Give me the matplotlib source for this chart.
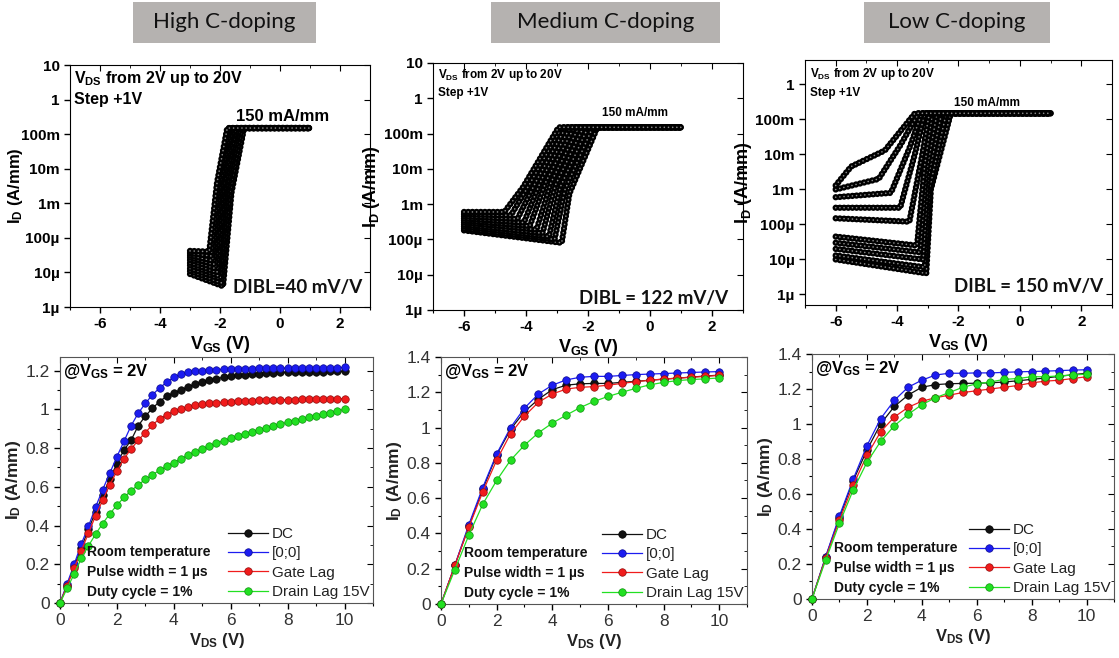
import numpy as np
import matplotlib.pyplot as plt
from matplotlib.patches import Rectangle
from matplotlib.ticker import (MultipleLocator, FixedLocator, FixedFormatter, NullFormatter,
                               FuncFormatter, NullLocator)

plt.rcParams['font.family'] = ['Liberation Sans', 'DejaVu Sans']
plt.rcParams['mathtext.fontset'] = 'custom'
plt.rcParams['mathtext.rm'] = 'Liberation Sans:bold'
plt.rcParams['mathtext.it'] = 'Liberation Sans:bold'
plt.rcParams['mathtext.bf'] = 'Liberation Sans:bold'
plt.rcParams['mathtext.default'] = 'regular'
plt.rcParams['lines.scale_dashes'] = False
plt.rcParams['axes.unicode_minus'] = False

# ---------------- transfer curves (top row), one entry per VDS = 2,4,...,20 V
vds_steps = [2, 4, 6, 8, 10, 12, 14, 16, 18, 20]
i_sat = 0.15      # 150 mA/mm compliance
vgs_stop = 1.0

# High C-doping
hi_vgs_start = -3.0
hi_i_start = [9e-6, 1.1e-5, 1.3e-5, 1.6e-5, 1.9e-5, 2.3e-5, 2.7e-5, 3.1e-5, 3.6e-5, 4.2e-5]
hi_v_on = [-1.90, -1.96, -2.00, -2.06, -2.10, -2.16, -2.21, -2.26, -2.30, -2.36]
hi_i_on = [4e-6, 5e-6, 6.5e-6, 8e-6, 1.0e-5, 1.3e-5, 1.7e-5, 2.2e-5, 3.0e-5, 4.0e-5]
hi_v_mid = [-1.62, -1.68, -1.74, -1.80, -1.85, -1.90, -1.95, -2.00, -2.05, -2.10]
hi_i_mid = [2e-3, 2e-3, 2.5e-3, 2.5e-3, 3e-3, 3e-3, 3.5e-3, 3.5e-3, 4e-3, 4e-3]
hi_v_sat = [-1.20, -1.28, -1.35, -1.42, -1.48, -1.55, -1.60, -1.66, -1.71, -1.76]

# Medium C-doping
md_vgs_start = -6.0
md_i_start = [1.8e-4, 2.0e-4, 2.3e-4, 2.6e-4, 3.0e-4, 3.4e-4, 3.9e-4, 4.5e-4, 5.2e-4, 6.0e-4]
md_v_on = [-2.85, -3.08, -3.26, -3.47, -3.66, -3.88, -4.07, -4.28, -4.49, -4.70]
md_i_on = [8e-5, 1.0e-4, 1.2e-4, 1.5e-4, 1.9e-4, 2.4e-4, 3.0e-4, 3.8e-4, 4.8e-4, 6.0e-4]
md_v_mid = [-2.60, -2.75, -2.90, -3.05, -3.20, -3.35, -3.50, -3.70, -3.90, -4.10]
md_i_mid = [2e-3, 2.5e-3, 3e-3, 3.5e-3, 4e-3, 4.5e-3, 5e-3, 4e-3, 3.5e-3, 3e-3]
md_v_sat = [-1.70, -1.85, -2.00, -2.15, -2.30, -2.45, -2.58, -2.72, -2.85, -2.95]

# Low C-doping
lo_vgs_start = -6.0
lo_i_start = [1.0e-5, 1.3e-5, 2.0e-5, 3.0e-5, 4.5e-5, 1.5e-4, 3.0e-4, 6.0e-4, 1.0e-3, 1.3e-3]
lo_v_on = [-3.05, -3.10, -3.15, -3.25, -3.35, -3.60, -3.90, -4.20, -4.60, -5.50]
lo_i_on = [4e-6, 6e-6, 1.0e-5, 1.6e-5, 2.5e-5, 1.2e-4, 3.0e-4, 8.0e-4, 2.0e-3, 4.5e-3]
lo_v_mid = [-2.90, -2.95, -3.00, -3.05, -3.10, -3.20, -3.40, -3.60, -3.90, -4.40]
lo_i_mid = [1e-3, 1e-3, 2e-3, 3e-3, 5e-3, 8e-3, 1.2e-2, 1.5e-2, 1.8e-2, 1.3e-2]
lo_v_sat = [-2.25, -2.40, -2.55, -2.70, -2.85, -2.95, -3.10, -3.20, -3.30, -3.42]

dec_ticks = [1e-6, 1e-5, 1e-4, 1e-3, 1e-2, 1e-1, 1, 10]
dec_labels = ['1µ', '10µ', '100µ', '1m', '10m', '100m', '1', '10']

# ---------------- output curves (bottom row) at VGS = 2 V
vds_hi = np.arange(0, 10.01, 0.25)
hi_dc = [0, 0.09, 0.19, 0.285, 0.38, 0.47, 0.555, 0.64, 0.72, 0.79, 0.84, 0.915, 0.965, 1.005, 1.04,
         1.068, 1.085, 1.10, 1.115, 1.13, 1.14, 1.15, 1.158, 1.165, 1.17, 1.175, 1.178, 1.181, 1.184,
         1.186, 1.188, 1.19, 1.19, 1.191, 1.192, 1.193, 1.194, 1.194, 1.195, 1.195, 1.196]
hi_p0 = [0, 0.10, 0.20, 0.305, 0.395, 0.495, 0.585, 0.67, 0.755, 0.835, 0.915, 0.98, 1.03, 1.075, 1.11,
         1.14, 1.165, 1.18, 1.19, 1.197, 1.20, 1.203, 1.205, 1.207, 1.208, 1.209, 1.21, 1.21, 1.211,
         1.211, 1.212, 1.212, 1.213, 1.213, 1.214, 1.214, 1.214, 1.215, 1.215, 1.215, 1.216]
hi_gl = [0, 0.09, 0.18, 0.27, 0.36, 0.45, 0.53, 0.61, 0.68, 0.745, 0.795, 0.84, 0.88, 0.92, 0.95,
         0.972, 0.99, 1.003, 1.013, 1.02, 1.025, 1.03, 1.034, 1.037, 1.04, 1.042, 1.044, 1.045, 1.046,
         1.047, 1.048, 1.049, 1.05, 1.05, 1.051, 1.052, 1.052, 1.053, 1.053, 1.054, 1.055]
hi_dl = [0, 0.075, 0.15, 0.23, 0.295, 0.355, 0.41, 0.46, 0.505, 0.545, 0.58, 0.61, 0.638, 0.662, 0.685,
         0.705, 0.725, 0.745, 0.763, 0.78, 0.795, 0.81, 0.825, 0.838, 0.85, 0.862, 0.873, 0.884, 0.895,
         0.905, 0.915, 0.924, 0.933, 0.942, 0.951, 0.959, 0.967, 0.975, 0.983, 0.991, 1.0]

vds_hal = np.arange(0, 10.01, 0.5)
md_dc = [0, 0.22, 0.44, 0.65, 0.845, 0.99, 1.09, 1.16, 1.215, 1.24, 1.248, 1.25, 1.25, 1.256, 1.262,
         1.268, 1.274, 1.28, 1.286, 1.292, 1.297]
md_p0 = [0, 0.22, 0.45, 0.66, 0.85, 1.0, 1.11, 1.19, 1.24, 1.27, 1.285, 1.29, 1.29, 1.295, 1.30,
         1.303, 1.306, 1.309, 1.312, 1.315, 1.317]
md_gl = [0, 0.22, 0.435, 0.635, 0.815, 0.965, 1.065, 1.143, 1.19, 1.218, 1.228, 1.232, 1.24, 1.25, 1.26,
         1.268, 1.275, 1.28, 1.285, 1.29, 1.296]
md_dl = [0, 0.195, 0.39, 0.565, 0.70, 0.815, 0.90, 0.97, 1.025, 1.07, 1.113, 1.148, 1.176, 1.20, 1.222,
         1.242, 1.256, 1.266, 1.272, 1.276, 1.281]

lo_dc = [0, 0.24, 0.465, 0.675, 0.85, 1.0, 1.10, 1.165, 1.21, 1.225, 1.23, 1.232, 1.233, 1.235, 1.24,
         1.247, 1.255, 1.263, 1.272, 1.282, 1.29]
lo_p0 = [0, 0.242, 0.474, 0.684, 0.875, 1.03, 1.135, 1.21, 1.25, 1.28, 1.29, 1.29, 1.292, 1.292, 1.295,
         1.298, 1.30, 1.302, 1.305, 1.308, 1.31]
lo_gl = [0, 0.235, 0.45, 0.65, 0.82, 0.955, 1.04, 1.095, 1.13, 1.15, 1.165, 1.18, 1.19, 1.20, 1.21,
         1.22, 1.235, 1.245, 1.25, 1.26, 1.27]
lo_dl = [0, 0.222, 0.432, 0.622, 0.78, 0.90, 0.99, 1.055, 1.11, 1.15, 1.18, 1.21, 1.23, 1.24, 1.255,
         1.26, 1.27, 1.27, 1.275, 1.28, 1.285]

series_names = ['DC', '[0;0]', 'Gate Lag', 'Drain Lag 15V']
series_colors = ['#111111', '#1c1cf0', '#f01c1c', '#22e022']
series_edges = ['#000000', '#0a0a90', '#900a0a', '#0e900e']

headers = ['High C-doping', 'Medium C-doping', 'Low C-doping']


def add_ticks(ax, xmajor, xminor, ylog):
    ax.tick_params(which='both', direction='out', top=False, right=False)
    ax.tick_params(which='major', length=4, width=1)
    ax.tick_params(which='minor', length=2, width=0.8)
    sx = ax.secondary_xaxis('top')
    sx.xaxis.set_major_locator(MultipleLocator(xmajor))
    sx.xaxis.set_minor_locator(MultipleLocator(xminor))
    sx.xaxis.set_major_formatter(NullFormatter())
    sx.tick_params(which='both', direction='in')
    sx.tick_params(which='major', length=4)
    sx.tick_params(which='minor', length=2)
    sy = ax.secondary_yaxis('right')
    if ylog:
        sy.yaxis.set_major_locator(FixedLocator(dec_ticks))
        sy.yaxis.set_minor_locator(NullLocator())
    else:
        sy.yaxis.set_major_locator(ax.yaxis.get_major_locator())
        sy.yaxis.set_minor_locator(ax.yaxis.get_minor_locator())
    sy.yaxis.set_major_formatter(NullFormatter())
    sy.yaxis.set_minor_formatter(NullFormatter())
    sy.tick_params(which='both', direction='in')
    sy.tick_params(which='major', length=4)
    sy.tick_params(which='minor', length=2)
    for s in list(sx.spines.values()) + list(sy.spines.values()):
        s.set_visible(False)


fig = plt.figure(figsize=(11.19, 6.58), dpi=100)

# header boxes
box_x = [133, 491, 864]
box_w = [183, 229, 186]
for bx, bw, title in zip(box_x, box_w, headers):
    fig.patches.append(Rectangle((bx / 1119, 1 - 43 / 658), bw / 1119, 41 / 658,
                                 transform=fig.transFigure, facecolor='#b5b2b0', edgecolor='none'))
    fig.text((bx + bw / 2) / 1119, 1 - 22 / 658, title, ha='center', va='center',
             fontsize=16, family=['Lato', 'DejaVu Sans'], color='#111111')

top_rects = [[0.0626, 0.5334, 0.2681, 0.3678],
             [0.3870, 0.5289, 0.2770, 0.3754],
             [0.7194, 0.5365, 0.2743, 0.3723]]
bot_rects = [[0.0536, 0.0836, 0.2797, 0.3739],
             [0.3941, 0.0821, 0.2735, 0.3754],
             [0.7256, 0.0897, 0.2699, 0.3723]]

top_data = [
    (hi_vgs_start, hi_i_start, hi_v_on, hi_i_on, hi_v_mid, hi_i_mid, hi_v_sat),
    (md_vgs_start, md_i_start, md_v_on, md_i_on, md_v_mid, md_i_mid, md_v_sat),
    (lo_vgs_start, lo_i_start, lo_v_on, lo_i_on, lo_v_mid, lo_i_mid, lo_v_sat),
]
top_ylim = [(1e-6, 10), (1e-6, 10), (5e-7, 5)]
dibl_txt = ['DIBL=40 mV/V', 'DIBL = 122 mV/V', 'DIBL = 150 mV/V']
note_fs = [11.5, 8.5, 8.5]
tick_fs = [11, 11, 11]
ylab_fs = [12, 13, 13]
ylab_x = [-0.15, None, None]
note_pos = [(0.012, 0.946, 0.857), (0.015, 0.951, 0.877), (0.016, 0.943, 0.867)]
sat_pos = [(0.708, 0.786, 12), (0.652, 0.796, 8.5), (0.592, 0.823, 8.5)]
dibl_pos = [(0.973, 0.081), (0.953, 0.047), (0.971, 0.075)]

for p in range(3):
    ax = fig.add_axes(top_rects[p])
    ax.set_yscale('log')
    x0, i_a, v_on, i_on, v_mid, i_mid, v_sat = top_data[p]
    for k in range(len(vds_steps)):
        xs = [x0, v_on[k], v_mid[k], v_sat[k], vgs_stop]
        ys = [i_a[k], i_on[k], i_mid[k], i_sat, i_sat]
        ax.plot(xs, ys, color='black', lw=4.6, ls=(0, (0.01, 3.0)), dash_capstyle='round')
        ax.plot(xs, ys, color='#8c8c8c', lw=1.2, ls=(0, (0.01, 3.0)), dash_capstyle='round')
    ax.set_xlim(-7, 3)
    ax.set_ylim(*top_ylim[p])
    ax.xaxis.set_major_locator(MultipleLocator(2))
    ax.xaxis.set_minor_locator(MultipleLocator(1))
    ax.yaxis.set_major_locator(FixedLocator(dec_ticks))
    ax.yaxis.set_major_formatter(FixedFormatter(dec_labels))
    ax.yaxis.set_minor_locator(NullLocator())
    add_ticks(ax, 2, 1, True)
    for lab in ax.get_xticklabels() + ax.get_yticklabels():
        lab.set_fontweight('bold')
        lab.set_fontsize(tick_fs[p])
    ax.set_xlabel('V$_{GS}$ (V)', fontsize=13, fontweight='bold', labelpad=2)
    ax.set_ylabel('I$_D$ (A/mm)', fontsize=ylab_fs[p], fontweight='bold', labelpad=1)
    if ylab_x[p] is not None:
        ax.yaxis.set_label_coords(ylab_x[p], 0.5)
    nx, ny1, ny2 = note_pos[p]
    ax.text(nx, ny1, 'V$_{DS}$ from 2V up to 20V', transform=ax.transAxes, fontsize=note_fs[p],
            fontweight='bold', va='center')
    ax.text(nx, ny2, 'Step +1V', transform=ax.transAxes, fontsize=note_fs[p], fontweight='bold',
            va='center')
    sx_, sy_, sfs = sat_pos[p]
    ax.text(sx_, sy_, '150 mA/mm', transform=ax.transAxes, fontsize=sfs, fontweight='bold',
            ha='center', va='center')
    ax.text(dibl_pos[p][0], dibl_pos[p][1], dibl_txt[p], transform=ax.transAxes, fontsize=13.5,
            family=['Lato', 'DejaVu Sans'], fontweight='bold', ha='right', va='center',
            color='#111111')

bot_data = [
    (vds_hi, [hi_dc, hi_p0, hi_gl, hi_dl]),
    (vds_hal, [md_dc, md_p0, md_gl, md_dl]),
    (vds_hal, [lo_dc, lo_p0, lo_gl, lo_dl]),
]
bot_ylim = [(0, 1.27), (0, 1.4), (0, 1.4)]
cond_x = [0.086, 0.075, 0.073]
cond_lines = ['Room temperature', 'Pulse width = 1 µs', 'Duty cycle = 1%']

for p in range(3):
    ax = fig.add_axes(bot_rects[p])
    vx, ys = bot_data[p]
    for s in range(4):
        ax.plot(vx, ys[s], color=series_colors[s], lw=0.9, marker='o', ms=5.4,
                mfc=series_colors[s], mec=series_edges[s], mew=0.5, clip_on=False,
                label=series_names[s], zorder=3)
    ax.set_xlim(0, 11)
    ax.set_ylim(*bot_ylim[p])
    ax.xaxis.set_major_locator(MultipleLocator(2))
    ax.xaxis.set_minor_locator(MultipleLocator(1))
    ax.yaxis.set_major_locator(MultipleLocator(0.2))
    ax.yaxis.set_minor_locator(MultipleLocator(0.1))
    ax.yaxis.set_major_formatter(FuncFormatter(lambda v, _: '%g' % round(v, 2)))
    add_ticks(ax, 2, 1, False)
    ax.tick_params(labelsize=12.5, labelcolor='#333333')
    for s in ax.spines.values():
        s.set_color('#555555')
    ax.set_xlabel('V$_{DS}$ (V)', fontsize=12, fontweight='bold', labelpad=2, color='#222222')
    ax.set_ylabel('I$_D$ (A/mm)', fontsize=12.5, fontweight='bold', labelpad=2, color='#222222')
    ax.text(0.01, 0.94, '@V$_{GS}$ = 2V', transform=ax.transAxes, fontsize=12,
            fontweight='bold', va='center')
    leg = ax.legend(loc='lower right', frameon=False, fontsize=11, numpoints=1,
                    handlelength=2.6, handletextpad=0.25, labelspacing=0.35,
                    borderaxespad=0.15, borderpad=0.1)
    for t in leg.get_texts():
        t.set_color('#222222')
    for i, line in enumerate(cond_lines):
        ax.text(cond_x[p], 0.207 - 0.081 * i, line, transform=ax.transAxes, fontsize=10,
                fontweight='bold', va='center', color='#111111')

fig.savefig('out.png', dpi=100)
